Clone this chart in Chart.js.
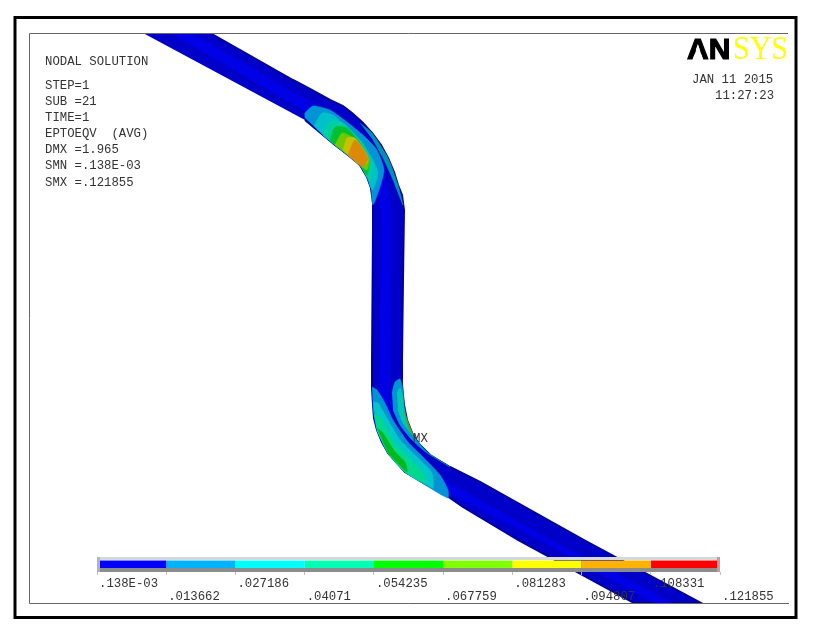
<!DOCTYPE html>
<html>
<head>
<meta charset="utf-8">
<title>ANSYS nodal solution</title>
<script src="https://cdn.jsdelivr.net/npm/chart.js@4/dist/chart.umd.min.js"></script>
<style>
    body { margin: 0; background: #fff; }
    #wrap { position: relative; width: 813px; height: 636px; }
    canvas { position: absolute; left: 0; top: 0; }
</style>
</head>
<body>
<div id="wrap">
    <canvas id="model" width="813" height="636"></canvas>
    <canvas id="legend" width="813" height="636"></canvas>
</div>
<script>
// Contour outlines, in picture coordinates
const pipeBody = [[143,33],[210,33],[293,80],[310,89],[330,100],[343,106],[352,113],[362,122],[372,133],[381,145],[388,158],[394,172],[398,185],[402,195],[404,210],[403,280],[402,360],[402,385],[404,405],[407,420],[413,435],[420,445],[430,455],[450,467],[480,482],[584,540],[701,603],[634,603],[518,540],[463,507],[450,498],[427,485],[415,478],[405,472],[396,462],[388,453],[382,442],[377,430],[374,418],[373,405],[372,388],[372,360],[373,230],[373,203],[371,188],[367,177],[360,165],[348,155],[335,145],[323,135],[305,120]];
const pipeCore = [[170,33],[190,33],[300,96],[345,122],[372,150],[385,180],[391,210],[390,360],[390,400],[396,430],[415,458],[445,480],[560,545],[672,603],[655,603],[540,540],[440,488],[405,462],[385,430],[380,395],[381,210],[372,172],[350,140],[300,108]];
const topBand1 = [[305,118],[305,113],[313,106],[330,110],[347,122],[363,135],[377,150],[384,170],[380,187],[373,205],[371,188],[367,177],[360,165],[348,155],[335,145],[323,135]];
const topBand2 = [[314,126],[322,113],[333,115],[360,140],[373,160],[378,173],[373,190],[371,188],[367,177],[360,165],[348,155],[335,145],[323,135]];
const topBand3 = [[323,135],[330,122],[343,123],[362,143],[372,163],[371,180],[367,177],[360,165],[348,155],[335,145]];
const topBand4 = [[330,141],[335,127],[347,128],[360,143],[369,160],[367,175],[360,165],[348,155],[335,145]];
const topBand5 = [[335,145],[342,133],[352,137],[363,148],[369,160],[367,170],[360,165],[348,155]];
const topBand6 = [[343,150],[347,138],[355,138],[368,157],[367,163],[360,165],[348,155]];
const topBand7 = [[348,155],[355,140],[368,158],[363,167],[360,165]];
const topOuter = [[360,123],[372,133],[388,158],[398,185],[403,205],[393,180],[383,158],[373,140]];
const lowBand1 = [[372,387],[377,390],[385,403],[393,420],[408,442],[423,457],[440,475],[448,490],[448,498],[430,488],[405,472],[388,453],[377,430],[373,410]];
const lowBand2 = [[373,402],[378,403],[388,420],[400,440],[417,457],[432,473],[433,488],[427,485],[405,472],[388,453],[377,430]];
const lowBand3 = [[374,415],[380,417],[393,440],[408,457],[423,473],[425,483],[405,472],[388,453],[377,430]];
const lowBand4 = [[377,428],[383,433],[395,452],[405,462],[407,472],[388,453]];
const innerBand1 = [[392,393],[395,382],[400,379],[403,390],[404,407],[407,420],[413,435],[427,452],[450,467],[427,453],[412,440],[400,425],[393,410]];
const innerBand2 = [[397,393],[400,388],[403,397],[404,407],[407,420],[413,435],[403,423],[398,410]];
const innerBand3 = [[403,410],[407,420],[413,435],[408,427]];

const contourLevels = [0.000138, 0.013662, 0.027186, 0.04071, 0.054235, 0.067759, 0.081283, 0.094807, 0.108331, 0.121855];
const contourLabels = ['.138E-03', '.013662', '.027186', '.04071', '.054235', '.067759', '.081283', '.094807', '.108331', '.121855'];
const contourColors = ['#0000ff', '#00b2ff', '#00ffff', '#00ffb2', '#00ff00', '#80ff00', '#ffff00', '#ffb200', '#ff0000'];

const infoLines = ['NODAL SOLUTION', 'STEP=1', 'SUB =21', 'TIME=1', 'EPTOEQV  (AVG)', 'DMX =1.965', 'SMN =.138E-03', 'SMX =.121855'];
const infoRows = [65, 89, 105, 121, 137, 153, 169, 186];

const monoFont = 'Liberation Mono';

function region(points, color, edge) {
    return {
        data: points,
        showLine: true,
        fill: 'shape',
        tension: edge ? 0 : 0.2,
        backgroundColor: color,
        borderColor: edge || color,
        borderWidth: edge ? 2 : 0.5,
        pointRadius: 0
    };
}

// frame, annotation text and the logo
const decoration = {
    id: 'decoration',
    afterDatasetsDraw(chart) {
        let ctx = chart.ctx;
        ctx.save();
        ctx.strokeStyle = '#000';
        ctx.lineWidth = 3;
        ctx.strokeRect(15, 17.5, 781, 600);
        ctx.fillStyle = '#fff';
        ctx.fillRect(130, 30, 90, 3);
        ctx.fillRect(620, 604, 90, 3);
        ctx.strokeStyle = '#666';
        ctx.lineWidth = 1;
        ctx.beginPath();
        ctx.moveTo(788, 33.5);
        ctx.lineTo(29.5, 33.5);
        ctx.lineTo(29.5, 603.5);
        ctx.lineTo(789, 603.5);
        ctx.stroke();

        ctx.fillStyle = '#333';
        ctx.font = '12.3px "' + monoFont + '"';
        ctx.textBaseline = 'alphabetic';
        infoLines.forEach((line, i) => ctx.fillText(line, 45, infoRows[i]));
        ctx.fillText('JAN 11 2015', 692, 83);
        ctx.fillText('11:27:23', 715, 99);
        ctx.fillText('MX', 413, 442);

        ctx.fillStyle = '#000';
        ctx.strokeStyle = '#000';
        ctx.lineWidth = 1.2;
        ctx.font = 'bold 30px "Liberation Sans"';
        ctx.fillText('AN', 687, 59, 46);
        ctx.strokeText('AN', 687, 59, 46);
        ctx.fillStyle = '#fff';
        ctx.beginPath();   // the logo's A has no crossbar
        ctx.moveTo(698, 45);
        ctx.lineTo(692.5, 60.5);
        ctx.lineTo(703.5, 60.5);
        ctx.closePath();
        ctx.fill();
        ctx.fillStyle = '#ffff00';
        ctx.font = '33px "Liberation Serif"';
        ctx.fillText('SYS', 733, 59, 55);
        ctx.restore();
    }
};

new Chart(document.getElementById('model'), {
    type: 'scatter',
    data: {
        // Chart.js paints the first dataset last, so the list is flipped
        datasets: [
            region(pipeBody, '#0000c8', '#00009c'),
            region(pipeCore, '#0000e6'),
            region(topBand1, '#0094d4'),
            region(topBand2, '#00c0c8'),
            region(topBand3, '#00d0a0'),
            region(topBand4, '#00c030'),
            region(topBand5, '#70c800'),
            region(topBand6, '#c8c000'),
            region(topBand7, '#dc8808'),
            region(topOuter, '#0090b4'),
            region(lowBand1, '#0094d4'),
            region(lowBand2, '#00c8c8'),
            region(lowBand3, '#00d890'),
            region(lowBand4, '#00b818'),
            region(innerBand1, '#0094d4'),
            region(innerBand2, '#00c8b8'),
            region(innerBand3, '#60a000')
        ].reverse()
    },
    options: {
        responsive: false,
        animation: false,
        layout: { padding: 0 },
        plugins: { legend: { display: false }, tooltip: { enabled: false } },
        scales: {
            x: { type: 'linear', min: 0, max: 813, display: false },
            y: { type: 'linear', min: 0, max: 636, reverse: true, display: false }
        }
    },
    plugins: [decoration]
});

const bevel = {
    id: 'bevel',
    afterDatasetsDraw(chart) {
        let ctx = chart.ctx;
        let a = chart.chartArea;
        ctx.save();
        ctx.fillStyle = '#d4dadc';
        ctx.fillRect(a.left, a.top, a.right - a.left, 3);
        ctx.fillStyle = '#8c8c8c';
        ctx.fillRect(a.left, a.bottom - 4, a.right - a.left, 4);
        ctx.fillStyle = '#b4b4b4';
        ctx.fillRect(a.left, a.top, 3, a.bottom - a.top);
        ctx.fillStyle = '#cc9a9a';
        ctx.fillRect(a.right - 3, a.top, 3, a.bottom - a.top);
        ctx.restore();
    }
};

new Chart(document.getElementById('legend'), {
    type: 'bar',
    data: {
        labels: ['EPTOEQV'],
        datasets: contourColors.map((color, i) => ({
            data: [[contourLevels[i], contourLevels[i + 1]]],
            backgroundColor: color,
            barPercentage: 0.54,
            categoryPercentage: 1,
            grouped: false
        }))
    },
    options: {
        indexAxis: 'y',
        responsive: false,
        animation: false,
        layout: { padding: { left: 97, right: 93, top: 557, bottom: 0 } },
        plugins: { legend: { display: false }, tooltip: { enabled: false } },
        scales: {
            y: { display: false },
            x: {
                type: 'linear',
                min: contourLevels[0],
                max: contourLevels[contourLevels.length - 1],
                afterBuildTicks(scale) {
                    scale.ticks = contourLevels.map(v => ({ value: v }));
                },
                afterFit(scale) {
                    scale.height = 64;
                },
                border: { display: false },
                grid: { drawOnChartArea: false, tickLength: 3, tickColor: '#c0c0c0' },
                ticks: {
                    autoSkip: false,
                    maxRotation: 0,
                    align: 'start',
                    labelOffset: 2,
                    padding: 2,
                    color: '#333',
                    font: { family: monoFont, size: 12.3, lineHeight: 1.06 },
                    callback: (value, i) => i % 2 ? ['', contourLabels[i]] : [contourLabels[i], '']
                }
            }
        }
    },
    plugins: [bevel]
});
</script>
</body>
</html>
